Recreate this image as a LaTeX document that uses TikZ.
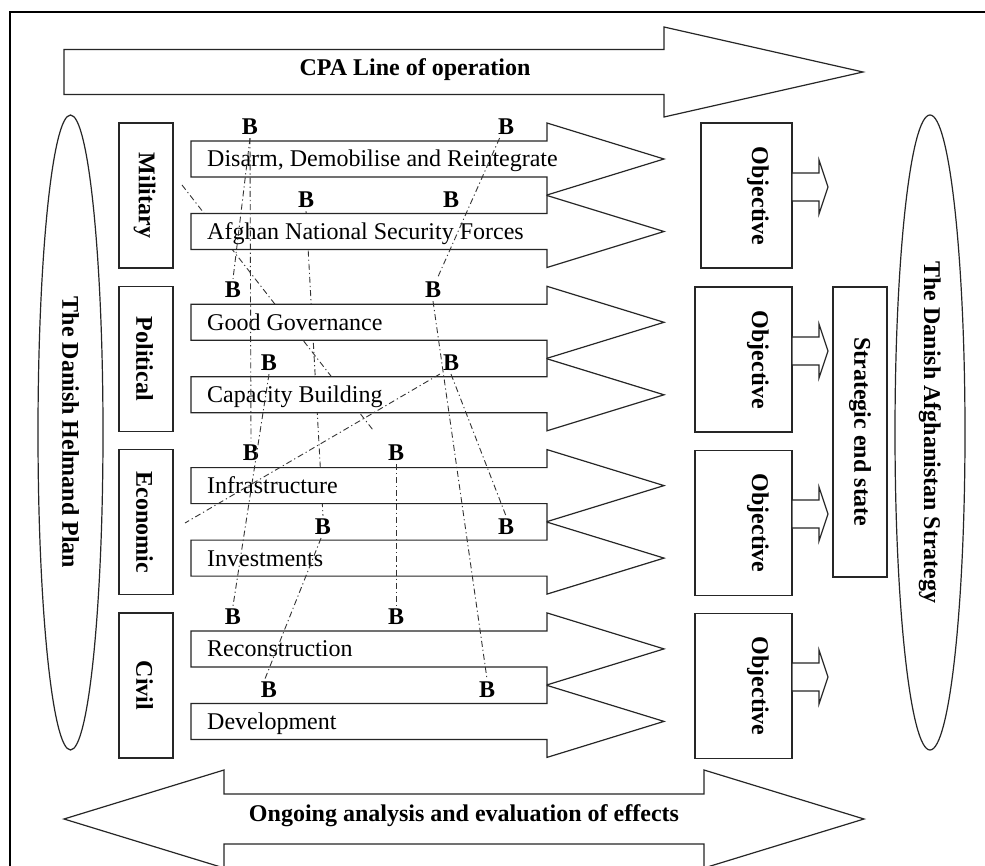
\documentclass[tikz,border=0pt]{standalone}
\usepackage{fontspec}
\setmainfont{Liberation Serif}
\usetikzlibrary{shapes.geometric}

% Block arrow pointing right: #1 tail x, #2 head base x, #3 tip x,
% #4 centre y, #5 half height of the shaft, #6 half height of the head
\newcommand{\hArrow}[6]{%
  \path[outline] (#1,{#4-#5}) -- (#2,{#4-#5}) -- (#2,{#4-#6}) -- (#3,#4)
    -- (#2,{#4+#6}) -- (#2,{#4+#5}) -- (#1,{#4+#5}) -- cycle;}

\begin{document}
\begin{tikzpicture}[x=1pt, y=-1pt,
  outline/.style={draw=black!85, line width=1.2pt, fill=white, line join=miter},
  boxnode/.style={draw=black!85, line width=1.2pt, fill=white, rectangle, inner sep=0pt},
  rowlabel/.style={font=\fontsize{24}{28}\selectfont, anchor=base west, inner sep=0pt},
  boldlabel/.style={font=\fontsize{24}{28}\selectfont\bfseries, inner sep=0pt},
  catlabel/.style={boldlabel, rotate=-90},
  blabel/.style={font=\fontsize{24}{28}\selectfont\bfseries, inner sep=3pt},
  link/.style={draw=black!80, line width=0.9pt, dash pattern=on 6pt off 3pt on 1.2pt off 3pt},
]
\useasboundingbox (0,0) rectangle (985,866);
\fill[white] (0,0) rectangle (985,866);

% outer frame (top and left edges)
\draw[line width=2pt] (10,880) -- (10,12) -- (995,12);

% the "B" markers
\node[blabel] (b1)  at (250,127) {B};
\node[blabel] (b2)  at (506,127) {B};
\node[blabel] (b3)  at (306,200) {B};
\node[blabel] (b4)  at (451,200) {B};
\node[blabel] (b5)  at (233,290) {B};
\node[blabel] (b6)  at (433,290) {B};
\node[blabel] (b7)  at (269,363) {B};
\node[blabel] (b8)  at (451,363) {B};
\node[blabel] (b9)  at (251,453) {B};
\node[blabel] (b10) at (396,453) {B};
\node[blabel] (b11) at (323,527) {B};
\node[blabel] (b12) at (506,527) {B};
\node[blabel] (b13) at (233,617) {B};
\node[blabel] (b14) at (396,617) {B};
\node[blabel] (b15) at (269,690) {B};
\node[blabel] (b16) at (487,690) {B};

\coordinate (milside) at (182,185);
\coordinate (capbelow) at (373,430);
\coordinate (ecoside) at (185,523);

% links running behind the line-of-operation arrows
\draw[link] (milside) -- (capbelow);
\draw[link] (b3.south) -- (b11.north);

% CPA line of operation
\hArrow{64}{664}{863}{72}{22.5}{45}
\node[boldlabel, anchor=base] (cpa) at (415,76) {CPA Line of operation};

% ellipses at both sides
\node[draw=black!85, line width=1.2pt, ellipse, rotate=-90, minimum width=635,
      minimum height=65, inner sep=0pt, boldlabel] (helmand) at (70.5,432.5)
      {The Danish Helmand Plan};
\node[draw=black!85, line width=1.2pt, ellipse, rotate=-90, minimum width=635,
      minimum height=70, inner sep=0pt, boldlabel] (strategy) at (930,432.5)
      {The Danish Afghanistan Strategy};

% category boxes
\node[boxnode, minimum width=54, minimum height=145] (milbox) at (146,195.5) {};
\node[boxnode, minimum width=54, minimum height=145] (polbox) at (146,358.8) {};
\node[boxnode, minimum width=54, minimum height=145] (ecobox) at (146,522.1) {};
\node[boxnode, minimum width=54, minimum height=145] (civbox) at (146,685.4) {};
\node[catlabel] (miltext) at (144.5,195.5) {Military};
\node[catlabel] (poltext) at (144.5,358.8) {Political};
\node[catlabel] (ecotext) at (144.5,522.1) {Economic};
\node[catlabel] (civtext) at (144.5,685.4) {Civil};

% lines of operation, two per category
\foreach \T in {123,286.3,449.6,612.9}{
  \hArrow{191}{547}{664}{\T+36}{18}{36}
  \hArrow{191}{547}{664}{\T+108.5}{18}{36}
}

% objective boxes with their arrows
\node[boxnode, minimum width=91, minimum height=145] (objmil) at (746.5,195.5) {};
\node[boxnode, minimum width=97, minimum height=145] (objpol) at (743.5,359.5) {};
\node[boxnode, minimum width=97, minimum height=145] (objeco) at (743.5,523) {};
\node[boxnode, minimum width=97, minimum height=145] (objciv) at (743.5,686) {};
\node[catlabel] (objmilt) at (758,196) {Objective};
\node[catlabel] (objpolt) at (758,360) {Objective};
\node[catlabel] (objecot) at (758,523) {Objective};
\node[catlabel] (objcivt) at (758,686) {Objective};
\hArrow{792}{819}{828}{187}{14}{27}
\hArrow{792}{819}{828}{351}{14}{27}
\hArrow{792}{819}{828}{514}{14}{27}
\hArrow{792}{819}{828}{677}{14}{27}

% strategic end state
\node[boxnode, rotate=-90, minimum width=290, minimum height=54, boldlabel]
  (endstate) at (860,432) {Strategic end state};

% labels of the lines of operation
\node[rowlabel] (ddr)   at (207,167)   {Disarm, Demobilise and Reintegrate};
\node[rowlabel] (ansf)  at (207,239.5) {Afghan National Security Forces};
\node[rowlabel] (gov)   at (207,330.3) {Good Governance};
\node[rowlabel] (cap)   at (207,402.8) {Capacity Building};
\node[rowlabel] (infra) at (207,493.6) {Infrastructure};
\node[rowlabel] (inv)   at (207,566.1) {Investments};
\node[rowlabel] (recon) at (207,656.9) {Reconstruction};
\node[rowlabel] (dev)   at (207,729.4) {Development};

% links drawn over the arrows
\draw[link] (b1.south) -- (b9.north);
\draw[link] (b1.south) -- (b5.north);
\draw[link] (b2.-120) -- (b6.70);
\draw[link] (b6.south) -- (b16.north);
\draw[link] (b8.south) -- (b12.north);
\draw[link] (b8.south west) -- (ecoside);
\draw[link] (b7.south) -- (b13.north);
\draw[link] (b11.-100) -- (b15.110);
\draw[link] (b10.south) -- (b14.north);

% ongoing analysis, double-headed arrow
\path[outline] (64,819) -- (224,770) -- (224,794) -- (704,794) -- (704,770)
  -- (864,819) -- (704,868) -- (704,844) -- (224,844) -- (224,868) -- cycle;
\node[boldlabel, anchor=base] (ongoing) at (464,821)
  {Ongoing analysis and evaluation of effects};
\end{tikzpicture}
\end{document}
